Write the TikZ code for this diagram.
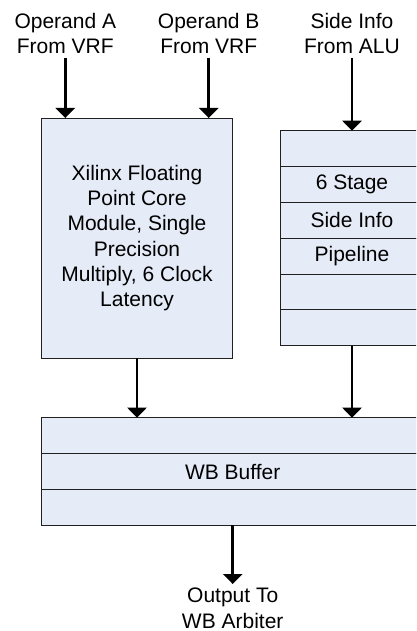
\documentclass[tikz,border=0pt]{standalone}
\usepackage{fontspec}
\setmainfont{Liberation Sans}
\usetikzlibrary{arrows.meta}
\definecolor{boxfill}{HTML}{E6ECF7}
\definecolor{boxline}{HTML}{202020}
\begin{document}
\begin{tikzpicture}[x=1pt,y=-1pt,
  txt/.style={font=\fontsize{21}{25.3}\selectfont, align=center, inner sep=0pt},
  cell/.style={draw=boxline, line width=0.9pt, fill=boxfill, inner sep=0pt, outer sep=0pt, txt},
  rcell/.style={cell, minimum width=143pt, minimum height=35.83pt},
  wcell/.style={cell, minimum width=382.7pt, minimum height=35.87pt},
  arr/.style={line width=2.8pt, -{Triangle[width=19pt,length=10pt]}}]
\useasboundingbox (0,0) rectangle (416,631);
\clip (0,0) rectangle (416,631);
% labels
\node[txt, anchor=south] (la) at (65.3,54.3) {Operand A\\From VRF};
\node[txt, anchor=south] (lb) at (208.7,54.3) {Operand B\\From VRF};
\node[txt, anchor=south] (lc) at (352,54.3) {Side Info\\From ALU};
% FP core
\node[cell, minimum width=191.4pt, minimum height=240pt] (fp) at (137,238)
  {Xilinx Floating\\Point Core\\Module, Single\\Precision\\Multiply, 6 Clock\\Latency};
% side info pipeline
\node[rcell] (r1) at (352,148.6) {};
\node[rcell] (r2) at (352,184.5) {6 Stage};
\node[rcell] (r3) at (352,220.3) {Side Info};
\node[rcell] (r4) at (352,256.2) {Pipeline};
\node[rcell] (r5) at (352,292.0) {};
\node[rcell] (r6) at (352,327.8) {};
% WB buffer
\node[wcell] (w1) at (232.7,435.6) {};
\node[wcell] (w2) at (232.7,471.5) {WB Buffer};
\node[wcell] (w3) at (232.7,507.4) {};
% output label
\node[txt, anchor=north] (out) at (232.7,588) {Output To\\WB Arbiter};
% arrows
\draw[arr, shorten <=4pt] (la.south) -- (la.south |- fp.north);
\draw[arr, shorten <=4pt] (lb.south) -- (lb.south |- fp.north);
\draw[arr, shorten <=4pt] (lc.south) -- (lc.south |- r1.north);
\draw[arr] (fp.south) -- (fp.south |- w1.north);
\draw[arr] (r6.south) -- (r6.south |- w1.north);
\draw[arr, shorten >=4pt] (w3.south) -- (out.north);
\end{tikzpicture}
\end{document}
